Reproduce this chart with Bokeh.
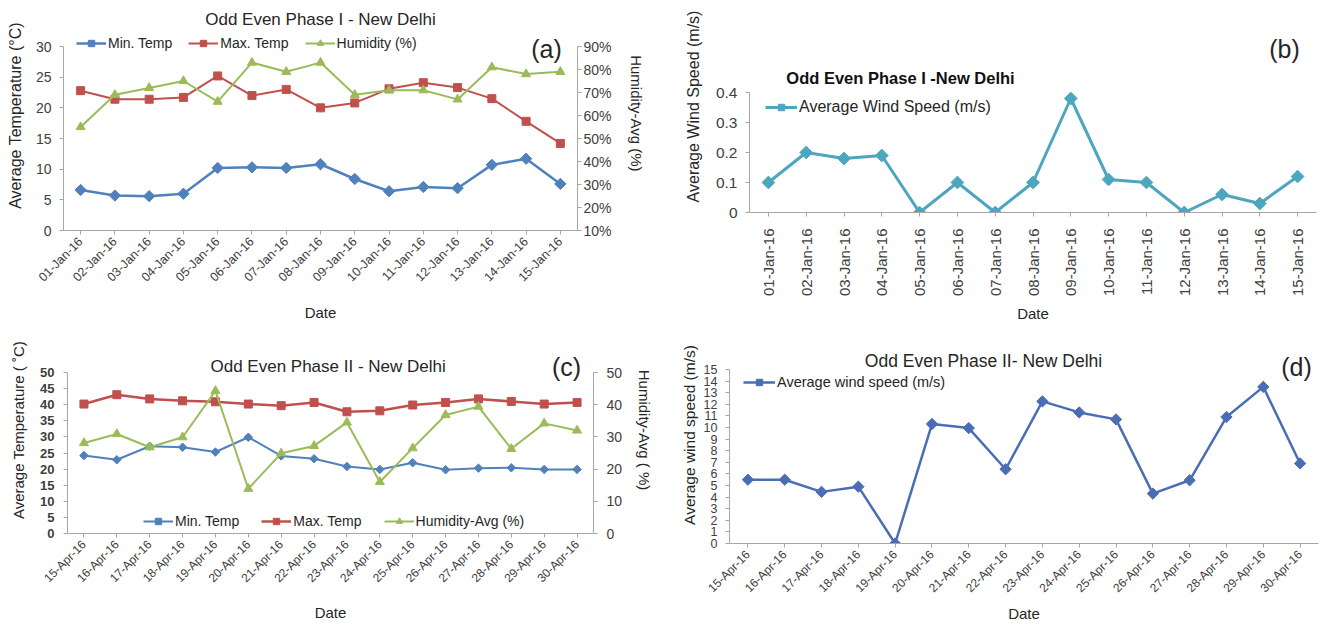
import math
from bokeh.plotting import figure
from bokeh.models import (Range1d, FactorRange, LinearAxis, Legend, LegendItem,
                          Label, FixedTicker, PrintfTickFormatter)
from bokeh.layouts import row, column
from bokeh.embed import file_html
from bokeh.resources import INLINE

# ---------------- data ----------------
dates_jan = ["01-Jan-16", "02-Jan-16", "03-Jan-16", "04-Jan-16", "05-Jan-16",
             "06-Jan-16", "07-Jan-16", "08-Jan-16", "09-Jan-16", "10-Jan-16",
             "11-Jan-16", "12-Jan-16", "13-Jan-16", "14-Jan-16", "15-Jan-16"]
min_temp_jan = [6.6, 5.7, 5.6, 6.0, 10.2, 10.3, 10.2, 10.8, 8.4, 6.4, 7.1, 6.9, 10.7, 11.7, 7.6]
max_temp_jan = [22.8, 21.4, 21.4, 21.7, 25.2, 22.0, 23.0, 20.0, 20.8, 23.1, 24.1, 23.3, 21.5, 17.8, 14.2]
humidity_jan = [55, 69, 72, 75, 66, 83, 79, 83, 69, 71, 71, 67, 81, 78, 79]
wind_jan = [0.10, 0.20, 0.18, 0.19, 0.0, 0.10, 0.0, 0.10, 0.38, 0.11, 0.10, 0.0, 0.06, 0.03, 0.12]

dates_apr = ["15-Apr-16", "16-Apr-16", "17-Apr-16", "18-Apr-16", "19-Apr-16",
             "20-Apr-16", "21-Apr-16", "22-Apr-16", "23-Apr-16", "24-Apr-16",
             "25-Apr-16", "26-Apr-16", "27-Apr-16", "28-Apr-16", "29-Apr-16", "30-Apr-16"]
min_temp_apr = [24.2, 22.9, 27.1, 26.8, 25.3, 29.9, 24.1, 23.2, 20.8, 19.9, 22.0, 19.8, 20.3, 20.4, 19.9, 19.9]
max_temp_apr = [40.2, 43.1, 41.8, 41.2, 40.9, 40.2, 39.7, 40.7, 37.8, 38.1, 39.9, 40.7, 41.8, 41.0, 40.2, 40.7]
humidity_apr = [28.1, 30.9, 26.8, 29.9, 44.3, 13.9, 24.9, 27.2, 34.5, 16.0, 26.5, 36.8, 39.4, 26.3, 34.2, 32.0]
wind_apr = [5.5, 5.5, 4.45, 4.9, 0.0, 10.3, 9.95, 6.4, 12.25, 11.3, 10.7, 4.3, 5.45, 10.9, 13.5, 6.9]

ticks_temp_a = [0, 5, 10, 15, 20, 25, 30]
ticks_hum_a = [10, 20, 30, 40, 50, 60, 70, 80, 90]
ticks_wind_b = [0, 0.1, 0.2, 0.3, 0.4]
ticks_temp_c = [0, 5, 10, 15, 20, 25, 30, 35, 40, 45, 50]
ticks_hum_c = [0, 10, 20, 30, 40, 50]
ticks_wind_d = [0, 1, 2, 3, 4, 5, 6, 7, 8, 9, 10, 11, 12, 13, 14, 15]

# ---------------- style ----------------
FONT = "Liberation Sans"
BLUE = "#4F81BD"
RED = "#C0504D"
GREEN = "#9BBB59"
TEAL = "#4BA6BE"
DBLUE = "#4A6DB5"
AXIS = "#A6A6A6"
TXT = "#404040"
DARK = "#262626"


class Geo:
    """Frame geometry in page pixels: frame spans from the figure top (oy)
    down to the x axis (bottom); y0 sits at `bottom`, y1 at `top`."""
    def __init__(self, ox, oy, width, height, left, right, top, bottom, n, y0, y1):
        self.ox, self.oy, self.width, self.height = ox, oy, width, height
        self.left, self.right, self.top, self.bottom = left, right, top, bottom
        self.n, self.y0, self.y1 = n, y0, y1

    def range_top(self, y0, y1):
        return y0 + (self.bottom - self.oy) / (self.bottom - self.top) * (y1 - y0)

    def data(self, px, py):
        xd = (px - self.left) / (self.right - self.left) * self.n
        yd = self.y0 + (self.bottom - py) / (self.bottom - self.top) * (self.y1 - self.y0)
        return xd, yd


def style_axis(ax, size, label_size, bold=False, tick_standoff=5, label_standoff=8):
    ax.axis_line_color = AXIS
    ax.major_tick_line_color = AXIS
    ax.major_tick_out = 4
    ax.major_tick_in = 0
    ax.minor_tick_line_color = None
    ax.major_label_text_font = FONT
    ax.major_label_text_font_size = size
    ax.major_label_text_color = TXT
    ax.major_label_text_font_style = "bold" if bold else "normal"
    ax.major_label_standoff = tick_standoff
    ax.axis_label_text_font = FONT
    ax.axis_label_text_font_style = "normal"
    ax.axis_label_text_font_size = label_size
    ax.axis_label_text_color = DARK
    ax.axis_label_standoff = label_standoff


def base(dates, geo):
    p = figure(x_range=FactorRange(*dates),
               y_range=Range1d(geo.y0, geo.range_top(geo.y0, geo.y1)),
               width=geo.width, height=geo.height, output_backend="svg", toolbar_location=None,
               min_border_left=geo.left - geo.ox, min_border_right=geo.ox + geo.width - geo.right,
               min_border_top=0, min_border_bottom=geo.oy + geo.height - geo.bottom)
    try:
        p.frame_align = False
    except Exception:
        pass
    p.outline_line_color = None
    p.xgrid.visible = False
    p.ygrid.visible = False
    p.background_fill_color = "white"
    p.border_fill_color = "white"
    p.yaxis.bounds = (geo.y0, geo.y1)
    return p


def text(p, geo, px, py, s, size, bold=False, font=FONT, color=DARK):
    xd, yd = geo.data(px, py)
    p.add_layout(Label(x=xd, y=yd, text=s, text_align="center", text_baseline="middle",
                       text_font=font, text_font_size=size,
                       text_font_style="bold" if bold else "normal", text_color=color))


def series(p, x, y, color, marker, size, lw, y_range_name="default"):
    l = p.line(x, y, line_color=color, line_width=lw, y_range_name=y_range_name)
    if marker == "diamond":
        s = p.scatter(x, y, marker="square", angle=math.pi / 4, size=size,
                      fill_color=color, line_color=color, y_range_name=y_range_name)
    else:
        s = p.scatter(x, y, marker=marker, size=size,
                      fill_color=color, line_color=color, y_range_name=y_range_name)
    return [l, s]


def legend(p, items, loc, size, spacing, glyph_width=30):
    lg = Legend(items=[LegendItem(label=t, renderers=r) for t, r in items],
                orientation="horizontal", location=loc, padding=0, margin=0,
                spacing=spacing, glyph_width=glyph_width, glyph_height=16,
                label_standoff=2, label_text_font=FONT, label_text_font_size=size,
                label_text_color=DARK, background_fill_alpha=0, border_line_color=None)
    p.add_layout(lg)


def right_axis(p, geo, name, y0, y1, ticks, label, fmt=None):
    p.extra_y_ranges = {name: Range1d(y0, geo.range_top(y0, y1))}
    ax = LinearAxis(y_range_name=name, ticker=FixedTicker(ticks=ticks),
                    axis_label=label, bounds=(y0, y1))
    if fmt is not None:
        ax.formatter = fmt
    return ax


# ---------------- panel (a) ----------------
ga = Geo(0, 0, 668, 326, 63, 577, 46, 230, len(dates_jan), 0, 30)
pa = base(dates_jan, ga)
ax_ra = right_axis(pa, ga, "hum", 10, 90, ticks_hum_a, "Humidity-Avg  (%)",
                   PrintfTickFormatter(format="%d%%"))
ra = series(pa, dates_jan, min_temp_jan, BLUE, "diamond", 8, 2.5)
rb = series(pa, dates_jan, max_temp_jan, RED, "square", 8, 2)
rc = series(pa, dates_jan, humidity_jan, GREEN, "triangle", 9, 2, "hum")
pa.yaxis.ticker = FixedTicker(ticks=ticks_temp_a)
pa.yaxis.axis_label = "Average Temperature (°C)"
style_axis(pa.yaxis[0], "14px", "16px", tick_standoff=8, label_standoff=9)
pa.xaxis.axis_label = "Date"
style_axis(pa.xaxis[0], "12.5px", "15px", label_standoff=12)
pa.xaxis.major_label_orientation = math.pi / 4
style_axis(ax_ra, "14px", "15px", tick_standoff=2, label_standoff=13)
pa.add_layout(ax_ra, "right")
legend(pa, [("Min. Temp", ra), ("Max. Temp", rb), ("Humidity (%)", rc)], (13, 179), "14px", 16)
text(pa, ga, 320, 19, "Odd Even Phase I - New Delhi", "17px")
text(pa, ga, 546, 48, "(a)", "25px")

# ---------------- panel (b) ----------------
gb = Geo(668, 0, 652, 326, 749, 1316, 92, 212, len(dates_jan), 0, 0.4)
pb = base(dates_jan, gb)
rw = series(pb, dates_jan, wind_jan, TEAL, "diamond", 9, 3)
pb.yaxis.ticker = FixedTicker(ticks=ticks_wind_b)
pb.yaxis.major_label_overrides = {0: "0"}
pb.yaxis.axis_label = "Average Wind Speed (m/s)"
style_axis(pb.yaxis[0], "15.5px", "16px", tick_standoff=8, label_standoff=11)
pb.xaxis.axis_label = "Date"
style_axis(pb.xaxis[0], "15px", "15px", tick_standoff=12, label_standoff=6)
pb.xaxis.major_label_orientation = math.pi / 2
legend(pb, [("Average Wind Speed (m/s)", rw)], (16, 96), "16px", 10, glyph_width=32)
text(pb, gb, 900, 77, "Odd Even Phase I -New Delhi", "16.5px", bold=True, color="#111111")
text(pb, gb, 1284, 48, "(b)", "25px")

# ---------------- panel (c) ----------------
gc = Geo(0, 326, 668, 300, 67, 593, 372, 533, len(dates_apr), 0, 50)
pc = base(dates_apr, gc)
ax_rc = right_axis(pc, gc, "hum", 0, 50, ticks_hum_c, "Humidity-Avg ( %)")
ca = series(pc, dates_apr, min_temp_apr, BLUE, "diamond", 6, 2)
cb = series(pc, dates_apr, max_temp_apr, RED, "square", 8, 2.5)
cc = series(pc, dates_apr, humidity_apr, GREEN, "triangle", 9, 2, "hum")
pc.yaxis.ticker = FixedTicker(ticks=ticks_temp_c)
pc.yaxis.axis_label = "Average Temperature ( ˚C)"
style_axis(pc.yaxis[0], "13px", "15px", bold=True, tick_standoff=9, label_standoff=10)
pc.xaxis.axis_label = "Date"
style_axis(pc.xaxis[0], "12px", "15px", label_standoff=11)
pc.xaxis.major_label_orientation = math.pi / 4
style_axis(ax_rc, "14px", "15px", tick_standoff=9, label_standoff=11)
pc.add_layout(ax_rc, "right")
legend(pc, [("Min. Temp", ca), ("Max. Temp", cb), ("Humidity-Avg (%)", cc)], (76, 4), "14px", 22)
text(pc, gc, 330, 366, "Odd Even Phase II  - New Delhi", "17px")
text(pc, gc, 566, 366, "(c)", "25px")

# ---------------- panel (d) ----------------
gd = Geo(668, 326, 652, 300, 729, 1318, 369, 543, len(dates_apr), 0, 15)
pd_ = base(dates_apr, gd)
dw = series(pd_, dates_apr, wind_apr, DBLUE, "diamond", 8, 2.5)
pd_.yaxis.ticker = FixedTicker(ticks=ticks_wind_d)
pd_.yaxis.axis_label = "Average wind speed (m/s)"
style_axis(pd_.yaxis[0], "12.5px", "15.5px", tick_standoff=8, label_standoff=3)
pd_.xaxis.axis_label = "Date"
style_axis(pd_.xaxis[0], "12px", "15px", label_standoff=2)
pd_.xaxis.major_label_orientation = math.pi / 4
legend(pd_, [("Average wind speed (m/s)", dw)], (14, 153), "14.5px", 10, glyph_width=32)
text(pd_, gd, 983, 360, "Odd Even Phase II- New Delhi", "17.5px")
text(pd_, gd, 1296, 366, "(d)", "25px")

layout = column(row(pa, pb), row(pc, pd_))
open("out.html", "w").write(file_html(layout, INLINE))
